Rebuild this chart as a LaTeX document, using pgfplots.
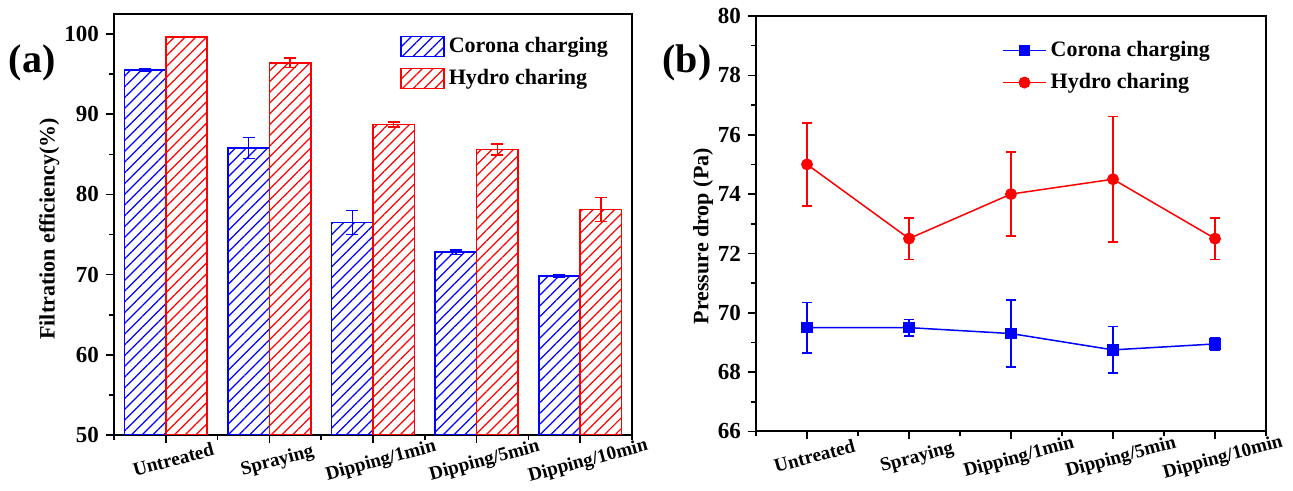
\documentclass[border=0pt]{standalone}
\usepackage{fontspec}
\setmainfont{Liberation Serif}
\usepackage{pgfplots}
\pgfplotsset{compat=1.18}
\usetikzlibrary{patterns.meta}

\begin{document}
\begin{tikzpicture}
\useasboundingbox (0,0) rectangle (646.5pt,245.5pt);
\pgfplotsset{
 common/.style={
  scale only axis,
  axis line style={line width=1pt},
  every tick/.style={black, line width=0.8pt},
  major tick length=4pt, minor tick length=2.5pt,
  tick align=outside, tick pos=left,
  xmin=-0.5, xmax=4.5,
  xtick={0,...,4},
  xticklabels={Untreated,Spraying,Dipping/1min,Dipping/5min,Dipping/10min},
  minor xtick={-0.5,0.5,...,4.5},
  x tick label style={rotate=15, anchor=north, yshift=-2pt, xshift=1.5pt, font=\bfseries\fontsize{9.6}{12}\selectfont},
  y tick label style={font=\bfseries\fontsize{11.5}{13}\selectfont},
  /pgf/number format/assume math mode=true,
  label style={font=\bfseries\fontsize{11}{13}\selectfont},
  legend style={draw=none, fill=none, inner sep=0pt, font=\bfseries\fontsize{11}{13}\selectfont, row sep=3pt},
  legend cell align=left,
 }
}
\begin{axis}[common, at={(57pt,28pt)}, anchor=south west, width=259pt, height=210.5pt,
  ymin=50, ymax=102.5, ytick={50,60,...,100}, minor ytick={55,65,...,95},
  ylabel={Filtration efficiency(\%)},
  ylabel style={at={(axis description cs:-0.125,0.49)}, anchor=center},
  ybar, bar width=0.4,
  legend style={at={(0.552,0.955)}, anchor=north west},
  legend image code/.code={\draw[#1] (0pt,-5pt) rectangle (21.5pt,5pt);}]
\addplot[draw=blue, line width=0.75pt, pattern={Lines[angle=45,distance=3.8pt,line width=0.6pt]}, pattern color=blue, bar shift=-0.2,
  error bars/.cd, y dir=both, y explicit, error bar style={blue, line width=0.75pt}, error mark options={rotate=90, blue, mark size=3pt, line width=0.75pt}]
  coordinates {(0,95.5)+-(0,0.15) (1,85.8)+-(0,1.3) (2,76.5)+-(0,1.5) (3,72.8)+-(0,0.3) (4,69.85)+-(0,0.15)};
\addplot[draw=red, line width=0.75pt, pattern={Lines[angle=45,distance=3.8pt,line width=0.6pt]}, pattern color=red, bar shift=0.2,
  error bars/.cd, y dir=both, y explicit, error bar style={red, line width=0.75pt}, error mark options={rotate=90, red, mark size=3pt, line width=0.75pt}]
  coordinates {(0,99.65)+-(0,0.05) (1,96.4)+-(0,0.6) (2,88.7)+-(0,0.3) (3,85.6)+-(0,0.7) (4,78.1)+-(0,1.5)};
\legend{Corona charging, Hydro charing}
\end{axis}
\node[font=\bfseries\fontsize{20}{24}\selectfont] at (16pt,214pt) {(a)};

\begin{axis}[common, at={(378pt,29.75pt)}, anchor=south west, width=255pt, height=207.75pt,
  ymin=66, ymax=80, ytick={66,68,...,80}, minor ytick={67,69,...,79},
  ylabel={Pressure drop (Pa)},
  ylabel style={at={(axis description cs:-0.104,0.47)}, anchor=center},
  legend style={at={(0.482,0.95)}, anchor=north west},
  legend image code/.code={\draw[mark repeat=2,mark phase=2,#1] plot coordinates {(0pt,0pt) (10.75pt,0pt) (21.5pt,0pt)};}]
\addplot[blue, line width=0.75pt, mark=square*, mark size=2.5pt,
  error bars/.cd, y dir=both, y explicit, error bar style={blue, line width=0.75pt}, error mark options={rotate=90, blue, mark size=2.5pt, line width=0.75pt}]
  coordinates {(0,69.5)+-(0,0.85) (1,69.5)+-(0,0.28) (2,69.3)+-(0,1.13) (3,68.75)+-(0,0.78) (4,68.95)+-(0,0.2)};
\addplot[red, line width=0.75pt, mark=*, mark size=2.6pt,
  error bars/.cd, y dir=both, y explicit, error bar style={red, line width=0.75pt}, error mark options={rotate=90, red, mark size=2.5pt, line width=0.75pt}]
  coordinates {(0,75.0)+-(0,1.4) (1,72.5)+-(0,0.7) (2,74.0)+-(0,1.42) (3,74.5)+-(0,2.12) (4,72.5)+-(0,0.7)};
\legend{Corona charging, Hydro charing}
\end{axis}
\node[font=\bfseries\fontsize{20}{24}\selectfont] at (343.5pt,214pt) {(b)};
\end{tikzpicture}
\end{document}
